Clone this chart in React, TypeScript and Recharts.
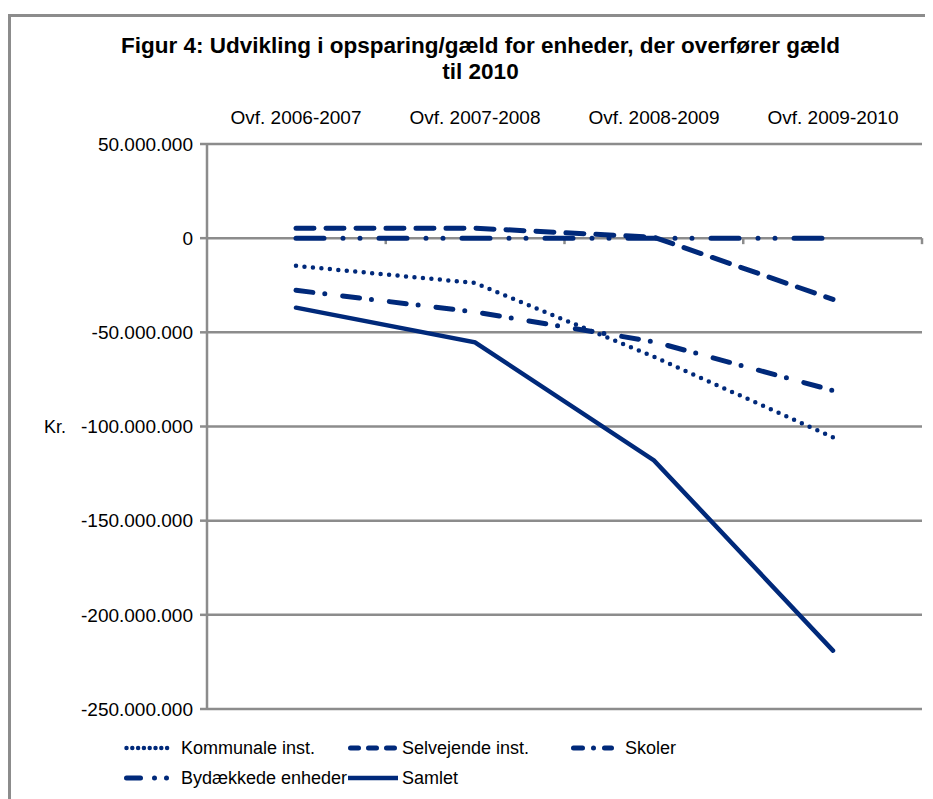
import React from 'react';
import { LineChart, Line, XAxis, YAxis, CartesianGrid, ReferenceLine } from 'recharts';

// values (kr.)
const categories = ['Ovf. 2006-2007', 'Ovf. 2007-2008', 'Ovf. 2008-2009', 'Ovf. 2009-2010'];
const kommunale = [-14700000, -23800000, -63000000, -105700000];
const selvejende = [5200000, 5300000, 500000, -32500000];
const skoler = [0, 0, 0, 0];
const bydaekkede = [-27700000, -39200000, -55000000, -80900000];
const samlet = [-36900000, -55300000, -118000000, -219000000];
const yTicks = [50000000, 0, -50000000, -100000000, -150000000, -200000000, -250000000];

const NAVY = '#00297a';
const GRID = '#8c8c8c';
const FONT = '"Liberation Sans", Arial, sans-serif';

// dash = pattern in the plot, legendDash = the shorter pattern Excel draws in the legend key
const series = [
    { key: 'kommunale', name: 'Kommunale inst.', width: 4.5, dash: '0 8.5', legendDash: '0 5.8' },
    { key: 'selvejende', name: 'Selvejende inst.', width: 5, dash: '18 12', legendDash: '8 10' },
    { key: 'skoler', name: 'Skoler', width: 5, dash: '28 19 0 17 0 19', legendDash: '9 11 0 11 9 100' },
    { key: 'bydaekkede', name: 'Bydækkede enheder', width: 5, dash: '17 12 0 18', legendDash: '14 14 0 12 0 100' },
    { key: 'samlet', name: 'Samlet', width: 4.5, dash: undefined as string | undefined, legendDash: undefined as string | undefined },
];

const data = categories.map((cat, i) => ({
    cat,
    kommunale: kommunale[i],
    selvejende: selvejende[i],
    skoler: skoler[i],
    bydaekkede: bydaekkede[i],
    samlet: samlet[i],
}));

const formatKr = (v: number) => {
    const s = Math.abs(v).toString().replace(/\B(?=(\d{3})+(?!\d))/g, '.');
    return v < 0 ? '-' + s : s;
};

// small tick marks hanging below the zero line at the category boundaries
const ZeroTicks = (props: any) => {
    const { x1, x2, y1 } = props;
    const step = (x2 - x1) / categories.length;
    return (
        <g>
            {categories.map((c, i) => (
                <line
                    key={c}
                    x1={x1 + step * (i + 1)}
                    x2={x1 + step * (i + 1)}
                    y1={y1}
                    y2={y1 + 6}
                    stroke={GRID}
                    strokeWidth={2.5}
                />
            ))}
        </g>
    );
};

const LegendItem = ({ s, left, top, sample, gap }: { s: any; left: number; top: number; sample: number; gap: number }) => (
    <div style={{ position: 'absolute', left, top, display: 'flex', alignItems: 'center', height: 22 }}>
        <svg width={sample} height={10} style={{ marginRight: gap, overflow: 'visible' }}>
            <line
                x1={s.legendDash ? 2.5 : 0}
                x2={s.legendDash ? sample - 2.5 : sample}
                y1={5}
                y2={5}
                stroke={NAVY}
                strokeWidth={s.width}
                strokeDasharray={s.legendDash}
                strokeLinecap={s.legendDash ? 'round' : 'butt'}
            />
        </svg>
        <span style={{ fontSize: 18, color: '#000', whiteSpace: 'nowrap' }}>{s.name}</span>
    </div>
);

export default function App() {
    return (
        <div style={{ position: 'relative', width: 925, height: 791, overflow: 'hidden', fontFamily: FONT }}>
            {/* chart frame, right and bottom edges fall outside the picture */}
            <div
                style={{
                    position: 'absolute',
                    left: 0,
                    top: 6,
                    width: 2000,
                    height: 2000,
                    borderLeft: `3px solid ${GRID}`,
                    borderTop: `3px solid ${GRID}`,
                }}
            />
            <div
                style={{
                    position: 'absolute',
                    left: 0,
                    top: 25,
                    width: 945,
                    textAlign: 'center',
                    fontWeight: 'bold',
                    fontSize: 22.5,
                    lineHeight: '26px',
                    color: '#000',
                }}
            >
                Figur 4: Udvikling i opsparing/gæld for enheder, der overfører gæld
                <br />
                til 2010
            </div>
            <div style={{ position: 'absolute', left: 0, top: 0 }}>
                <LineChart
                    width={925}
                    height={791}
                    data={data}
                    margin={{ top: 100, right: 11, bottom: 90, left: 0 }}
                    style={{ fontFamily: FONT }}
                >
                    <CartesianGrid vertical={false} stroke={GRID} strokeWidth={2.5} />
                    <XAxis
                        dataKey="cat"
                        orientation="top"
                        height={36}
                        axisLine={false}
                        tickLine={false}
                        tickSize={0}
                        tickMargin={20}
                        padding={{ left: 89, right: 89 }}
                        tick={{ fontSize: 19, fill: '#000' }}
                        interval={0}
                    />
                    <YAxis
                        width={199}
                        domain={[-250000000, 50000000]}
                        ticks={yTicks}
                        interval={0}
                        tickFormatter={formatKr}
                        tickSize={7}
                        tickMargin={7}
                        axisLine={{ stroke: GRID, strokeWidth: 2.5 }}
                        tickLine={{ stroke: GRID, strokeWidth: 2.5 }}
                        tick={{ fontSize: 19, fill: '#000' }}
                        label={{ value: 'Kr.', position: 'insideLeft', offset: 36, fill: '#000', fontSize: 18 }}
                    />
                    <ReferenceLine y={0} stroke={GRID} strokeWidth={2.5} shape={ZeroTicks} />
                    {series.map((s) => (
                        <Line
                            key={s.key}
                            type="linear"
                            dataKey={s.key}
                            name={s.name}
                            stroke={NAVY}
                            strokeWidth={s.width}
                            strokeDasharray={s.dash}
                            strokeLinecap="round"
                            dot={false}
                            activeDot={false}
                            isAnimationActive={false}
                        />
                    ))}
                </LineChart>
            </div>
            <LegendItem s={series[0]} left={116} top={729} sample={49} gap={8} />
            <LegendItem s={series[1]} left={340} top={729} sample={50} gap={4} />
            <LegendItem s={series[2]} left={563} top={729} sample={43} gap={11} />
            <LegendItem s={series[3]} left={116} top={759} sample={49} gap={8} />
            <LegendItem s={series[4]} left={340} top={759} sample={50} gap={4} />
        </div>
    );
}
